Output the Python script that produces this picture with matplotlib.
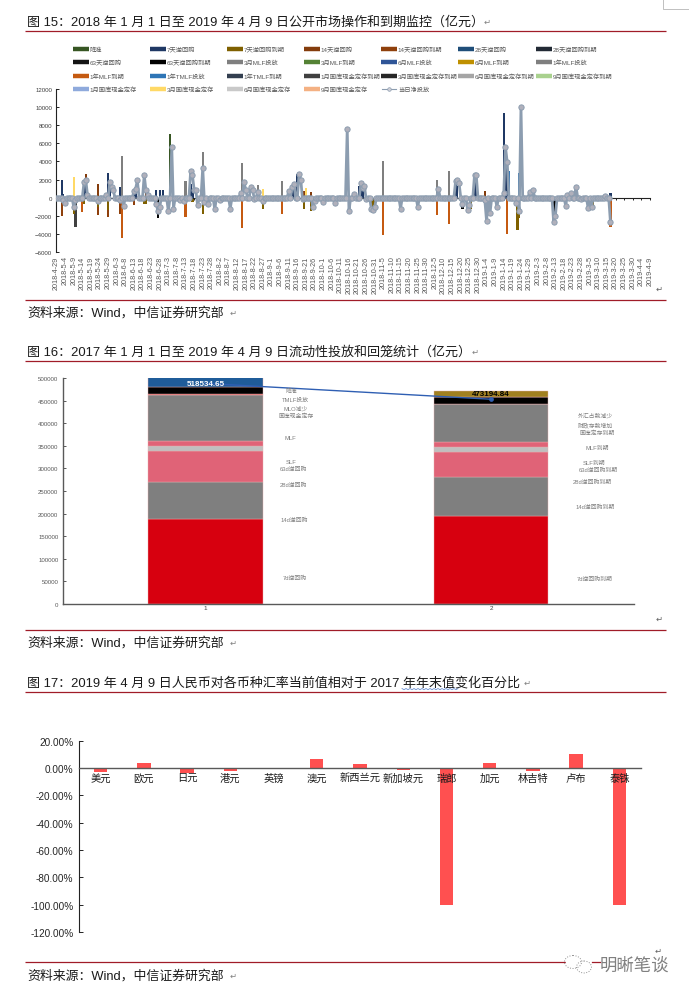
# -*- coding: utf-8 -*-
import numpy as np
import pandas as pd
import matplotlib
matplotlib.use('Agg')
import matplotlib.pyplot as plt
from matplotlib.patches import Ellipse

plt.rcParams['font.family'] = ['Liberation Sans', 'Noto Sans CJK SC', 'DejaVu Sans']

W, H = 689, 995

# chart 1: open market operations, days counted from 2018-4-29
start_date = '2018-04-29'
last_day = 345
net_end_day = 323

legend_names = ['降准', '7天逆回购', '7天逆回购到期', '14天逆回购', '14天逆回购到期', '28天逆回购', '28天逆回购到期',
                '63天逆回购', '63天逆回购到期', '3月MLF投放', '3月MLF到期', '6月MLF投放', '6月MLF到期', '1年MLF投放',
                '1年MLF到期', '1年TMLF投放', '1年TMLF到期', '1月国库现金定存到期', '3月国库现金定存到期', '6月国库现金定存到期', '9月国库现金定存到期',
                '1月国库现金定存', '3月国库现金定存', '6月国库现金定存', '9月国库现金定存']
legend_colors = ['#375623', '#1f3864', '#7f6000', '#843c0c', '#8f400c', '#1f4e79', '#222a35',
                 '#141414', '#000000', '#7f7f7f', '#548235', '#2f5597', '#bf9000', '#7f7f7f',
                 '#c55a11', '#2e75b6', '#333f50', '#404040', '#262626', '#a5a5a5', '#a9d18e',
                 '#8faadc', '#ffd966', '#c9c9c9', '#f4b183']

rrr_days = [66, 260]
rrr_vals = [7000, 7500]
rr7_days = [3, 4, 16, 17, 30, 31, 37, 45, 46, 58, 60, 62, 78, 79, 137, 138, 140, 176, 177, 178, 232, 233, 243, 244, 260, 261, 262, 322]
rr7_vals = [2000, 400, 1800, 1900, 2700, 1800, 1200, 1000, 1400, 800, 800, 800, 1500, 700, 1000, 1400, 2600, 1300, 1300, 900, 1800, 1300, 2500, 1500, 9400, 5600, 3900, 500]
rr7_due_days = [10, 16, 24, 30, 51, 52, 58, 65, 79, 85, 120, 144, 148, 183, 184, 185, 241, 268, 269, 289, 312]
rr7_due_vals = [-1800, -700, -1000, -1400, -700, -700, -800, -900, -500, -1800, -1300, -1200, -1500, -1000, -1400, -1000, -1200, -3600, -2200, -800, -1000]
rr14_days = [17, 24, 52, 144, 148, 249]
rr14_vals = [2600, 1500, 900, 700, 600, 700]
rr14_due_days = [3, 24, 30, 37, 45, 250, 256]
rr14_due_vals = [-2000, -1900, -2100, -1800, -800, -1300, -500]
rr63_due_days = [59, 236, 289, 290]
rr63_due_vals = [-2200, -1200, -2200, -1600]
mlf_in_days = [38, 75, 85, 108, 117, 131, 190, 221, 228]
mlf_in_vals = [4600, 1800, 5000, 3800, 1400, 1800, 4100, 1900, 2900]
mlf_due_days = [15, 38, 75, 108, 131, 190, 221, 228, 262, 322]
mlf_due_vals = [-1600, -4400, -2100, -3400, -1800, -4100, -1900, -2900, -4000, -3200]
tmlf_days = [263, 269]
tmlf_vals = [3000, 2700]
cash_3m_days = [10, 120, 145]
cash_3m_vals = [2300, 1000, 1100]
cash_due_days = [11]
cash_due_vals = [-3200]

net_days = [4, 5, 10, 11, 16, 17, 18, 24, 29, 31, 32, 33, 37, 39, 45, 46, 47, 51, 52, 53, 58, 59, 60, 65, 67, 68, 72, 74,
            78, 79, 80, 81, 82, 85, 86, 88, 92, 95, 101, 107, 109, 110, 113, 114, 115, 117, 120, 135, 137, 138, 141, 142, 143,
            149, 150, 155, 162, 169, 170, 173, 177, 178, 179, 180, 183, 184, 185, 200, 210, 222, 232, 233, 234, 236, 239, 240,
            243, 244, 249, 250, 252, 256, 260, 261, 262, 267, 269, 270, 275, 277, 289, 290, 296, 297, 299, 302, 305, 309, 311, 319, 322]
net_vals = [-300, -600, -1000, -300, 1700, 2000, 300, -400, 300, 1700, 1200, 800, -300, -900, 700, 1000, 1900, 2500, 800, 300, -700, -1500, -1000, -1500, 5600, -1200, -300, -400,
            3000, 2500, 900, 800, -800, 3300, -500, -700, -1300, -300, -1200, 500, 1700, 900, 1200, 900, -200, 600, -400, 700, 1200, 1500, 2600, 2000, -200,
            -1000, -400, -500, -600, 7600, -1500, 400, 1600, 1100, 1300, -200, -1200, -1400, -1000, -1200, -1000, 1000, 1800, 1900, 1600, -700, -1400, -800,
            2500, 2500, -300, -2600, -1700, -1000, 500, 5600, 3900, -600, -1500, 10000, 600, 900, -2700, -2000, -900, 300, 500, 1200, -200, -1100, -1000, 200, -2700]

# chart 2: liquidity injected and withdrawn, segments from bottom to top
seg_colors = ['#d7000f', '#7f7f7f', '#e06377', '#bfbfbf', '#e06377', '#7f7f7f', '#e05050', '#000000', '#1f5c99', '#a08020']
seg_7d = [187600, 195400]
seg_14d = [82700, 86300]
seg_28d = [67700, 54600]
seg_63d = [10600, 10300]
seg_slf = [11100, 11100]
seg_mlf = [102300, 84800]
seg_tmlf = [2500, 0]
seg_cash = [15500, 16200]
seg_rrr = [38534, 0]
seg_fx = [0, 12500]
total_labels = ['518534.65', '473194.84']
total_line = [488000, 453000]
bar_names = ['1', '2']

side_left = ['降准', 'TMLF投放', 'MLO减少', '国库现金定存', 'MLF', 'SLF', '63d逆回购', '28d逆回购', '14d逆回购', '7d逆回购']
side_right = ['外汇占款减少', '财政存款增加', '国库定存到期', 'MLF到期', 'SLF到期', '63d逆回购到期', '28d逆回购到期', '14d逆回购到期', '7d逆回购到期']

# chart 3: RMB against other currencies
currencies = ['美元', '欧元', '日元', '港元', '英镑', '澳元', '新西兰元', '新加坡元', '瑞郎', '加元', '林吉特', '卢布', '泰铢']
fx_change = [-2.9, 3.2, -4.0, -2.4, 0.1, 6.5, 2.5, -1.8, -100.0, 3.2, -2.0, 10.0, -100.0]


def box(left, top, right, bottom):
    return [left / W, 1 - bottom / H, (right - left) / W, (bottom - top) / H]


fig = plt.figure(figsize=(W / 100, H / 100), dpi=100, facecolor='white')

# --------- chart 1
ax1 = fig.add_axes(box(56.5, 90, 650, 253))
bar_sets = [(rrr_days, rrr_vals, 0), (mlf_in_days, mlf_in_vals, 9), (cash_3m_days, cash_3m_vals, 22),
            (tmlf_days, tmlf_vals, 15), (rr14_days, rr14_vals, 3), (rr7_days, rr7_vals, 1),
            (cash_due_days, cash_due_vals, 17), (mlf_due_days, mlf_due_vals, 14), (rr14_due_days, rr14_due_vals, 4),
            (rr7_due_days, rr7_due_vals, 2), (rr63_due_days, rr63_due_vals, 8)]
for days, vals, c in bar_sets:
    ax1.bar(days, vals, width=1.3, color=legend_colors[c], linewidth=0)

net = np.zeros(net_end_day)
net[net_days] = net_vals
ax1.plot(np.arange(net_end_day), net, color='#8c9db0', lw=2.0, marker='o', ms=3.8,
         mfc='#b0b0bb', mec='#8c9db0', mew=0.7, zorder=5)

ax1.set_xlim(0, last_day)
ax1.set_ylim(-6000, 12000)
ax1.set_yticks(np.arange(-6000, 12001, 2000))
date_ticks = pd.date_range(start_date, periods=70, freq='5D')
ax1.set_xticks(np.arange(0, last_day + 1, 5))
ax1.set_xticklabels([f'{d.year}-{d.month}-{d.day}' for d in date_ticks], va='top', ha='center')
ax1.tick_params(axis='x', direction='out', length=1.5, width=0.7, pad=40, labelsize=5.2,
                labelrotation=90, labelcolor='#595959', color='#222222')
ax1.tick_params(axis='y', direction='in', length=2, width=0.7, pad=3, labelsize=4.4, labelcolor='#404040', color='#222222')
ax1.spines[['top', 'right']].set_visible(False)
ax1.spines['bottom'].set_position(('data', 0))
ax1.spines['bottom'].set_color('#222222')
ax1.spines['left'].set_color('#222222')
ax1.patch.set_alpha(0)

# --------- chart 2
ax2 = fig.add_axes(box(62.5, 379, 634, 605))
segs = np.array([seg_7d, seg_14d, seg_28d, seg_63d, seg_slf, seg_mlf, seg_tmlf, seg_cash, seg_rrr, seg_fx])
bottoms = np.vstack([np.zeros(2), np.cumsum(segs, axis=0)[:-1]])
for i in range(len(segs)):
    ax2.bar([0, 1], segs[i], bottom=bottoms[i], width=0.4, color=seg_colors[i],
            edgecolor='#e8b0b0', linewidth=0.3)
ax2.plot([0, 1], total_line, color='#2f5fb3', lw=1.0, marker='o', ms=2.4, markevery=[1], zorder=6)
ax2.text(0, 488000, total_labels[0], color='white', fontsize=5.8, fontweight='bold', ha='center', va='center', zorder=7)
ax2.text(1, 465000, total_labels[1], color='black', fontsize=5.8, fontweight='bold', ha='center', va='center', zorder=7)
ax2.set_xlim(-0.5, 1.5)
ax2.set_ylim(0, 500000)
ax2.set_yticks(np.arange(0, 500001, 50000))
ax2.set_xticks([0, 1])
ax2.set_xticklabels(bar_names)
ax2.tick_params(axis='x', length=0, pad=1, labelsize=4.6, labelcolor='#404040')
ax2.tick_params(axis='y', direction='in', length=2, width=0.7, pad=3, labelsize=4.4, labelcolor='#595959', color='#595959')
ax2.spines[['top', 'right']].set_visible(False)
ax2.spines['left'].set_color('#595959')
ax2.spines['left'].set_linewidth(1.0)
ax2.spines['bottom'].set_color('#595959')
ax2.spines['bottom'].set_linewidth(1.0)
ax2.patch.set_alpha(0)

# --------- chart 3
ax3 = fig.add_axes(box(79, 741.5, 641, 933))
ax3.bar(np.arange(len(currencies)), fx_change, width=0.31, color='#ff5050', linewidth=0)
ax3.set_xlim(-0.5, len(currencies) - 0.5)
ax3.set_ylim(-120, 20)
ax3.set_yticks(np.arange(-120, 21, 20))
ax3.set_yticklabels([f'{v:.2f}%' for v in np.arange(-120, 21, 20)])
ax3.set_xticks(np.arange(len(currencies)))
ax3.set_xticklabels(currencies)
ax3.tick_params(axis='x', length=0, pad=3.5, labelsize=7.4, labelcolor='#1a1a1a')
ax3.tick_params(axis='y', direction='in', length=3, width=0.7, pad=4, labelsize=7.2, labelcolor='#262626', color='#222222')
ax3.spines[['top', 'right']].set_visible(False)
ax3.spines['bottom'].set_position(('data', 0))
ax3.spines['bottom'].set_color('#595959')
ax3.spines['bottom'].set_linewidth(1.0)
ax3.spines['left'].set_color('#222222')
ax3.patch.set_alpha(0)

# --------- page furniture, drawn in pixel coordinates
page = fig.add_axes([0, 0, 1, 1], zorder=10)
page.set_xlim(0, W)
page.set_ylim(H, 0)
page.axis('off')
page.patch.set_alpha(0)

RULE = '#a01c28'
for y in [31.5, 300.5, 362, 631, 693, 962.5]:
    page.plot([25, 665.5], [y, y], color=RULE, lw=0.9, solid_capstyle='butt')

titles = [(22, '图 15：2018 年 1 月 1 日至 2019 年 4 月 9 日公开市场操作和到期监控（亿元）', 484),
          (352.5, '图 16：2017 年 1 月 1 日至 2019 年 4 月 9 日流动性投放和回笼统计（亿元）', 472),
          (683.5, '图 17：2019 年 4 月 9 日人民币对各币种汇率当前值相对于 2017 年年末值变化百分比', 524)]
for y, s, end in titles:
    page.text(27, y, s, fontsize=9.4, color='#1a1a1a', va='center', ha='left')
    page.text(end, y + 1, '↵', fontsize=6, color='#808080', va='center', ha='left')

for y in [313, 643.5, 976]:
    page.text(27, y, '资料来源：Wind，中信证券研究部', fontsize=9.3, color='#1a1a1a', va='center', ha='left')
    page.text(230, y + 1, '↵', fontsize=6, color='#808080', va='center', ha='left')

for x, y in [(656, 290), (656, 620), (655, 952)]:
    page.text(x, y, '↵', fontsize=6, color='#606060', va='center', ha='left')

# corner crop mark
page.plot([663, 663, 689], [0, 10, 10], color='#c0c0c0', lw=0.7)

# spell check squiggle under 2017 年年末
sx = np.arange(402, 460, 2)
page.plot(sx, 689.5 + (sx % 4 == 0) * 1.2, color='#6a8fd0', lw=0.6)

# legend of chart 1
col_x = [73, 150, 227, 304, 381, 458, 536]
row_y = [50, 63, 77, 90]
for i, name in enumerate(legend_names):
    x = col_x[i % 7]
    y = row_y[i // 7]
    page.plot([x, x + 16], [y, y], color=legend_colors[i], lw=3.2, solid_capstyle='butt')
    page.text(x + 16.5, y, name, fontsize=4.5, color='#595959', va='center', ha='left')
x = col_x[4]
page.plot([x + 1, x + 15], [90, 90], color='#8c9db0', lw=0.8)
page.plot([x + 8], [90], marker='o', ms=2.6, mfc='#d0d0d8', mec='#8c9db0', mew=0.5)
page.text(x + 17, 90, '当日净投放', fontsize=4.5, color='#595959', va='center', ha='left')

# side labels of chart 2
left_x = [291.7, 295.7, 295.7, 295.7, 290, 291, 293.7, 293, 294, 295]
left_y = [391.7, 400, 409, 416.5, 439, 462, 469, 485, 520, 578]
right_x = [595, 595.7, 596.7, 597.7, 594, 598, 592.7, 595, 594.7]
right_y = [416, 425.5, 433, 448, 463, 470, 482, 507, 579]
for s, x, y in zip(side_left, left_x, left_y):
    page.text(x, y, s, fontsize=4.2, color='#7f7f7f', va='center', ha='center')
for s, x, y in zip(side_right, right_x, right_y):
    page.text(x, y, s, fontsize=4.2, color='#7f7f7f', va='center', ha='center')

# watermark
page.add_patch(plt.Rectangle((566, 954), 102, 24, color='white', zorder=3))
page.plot([592, 600], [962.5, 962.5], color=RULE, lw=0.9, zorder=4)
page.add_patch(Ellipse((573, 963), 17, 13, fill=False, ec='#909090', lw=0.7, ls=':', zorder=4))
page.add_patch(Ellipse((584, 968), 15, 12, fill=False, ec='#909090', lw=0.7, ls=':', zorder=4))
page.text(600, 965.5, '明晰笔谈', fontsize=12.5, color='#808080', va='center', ha='left', zorder=5)

fig.savefig('out.png', dpi=100)
